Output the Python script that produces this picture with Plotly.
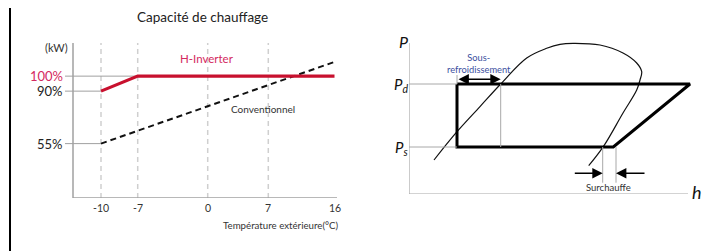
import numpy as np
import plotly.graph_objects as go

W, H = 717, 251

# ---------------- data: left chart ----------------
temp_ticks = [-10, -7, 0, 7, 16]
tick_labels = ["-10", "-7", "0", "7", "16"]
inverter_temp = [-10, -7, 16]
inverter_pct = [90, 100, 100]
conv_temp = [-10, 16]
conv_pct = [55, 109.5]
ref_pct = [100, 90, 55]
ref_labels = ["100%", "90%", "55%"]
ref_until_temp = [-7, -10, -10]
grid_temps = [-10, -7, 0, 7]

# ---------------- data: right chart (P-h diagram) ----------------
dome_h = [25, 48, 71, 91.7, 117.7, 137.7, 151, 164, 191, 214, 227.7, 232.7, 231, 227.7, 214, 194.3, 179.7]
dome_p = [34, 62.3, 87.4, 110, 136, 145.7, 149.7, 150.7, 149, 141, 131, 122.3, 114, 104, 81, 47.3, 28.3]
cycle_h = [48, 281, 204.3, 48, 48]
cycle_p = [110, 110, 47, 47, 110]
p_d, p_s = 110, 47
subcool_h = [48, 91.7]
superheat_h = [193.7, 207]

# ---------------- layout helpers ----------------
TICK_PX = [101, 137.7, 207.7, 268.3, 334.5]  # display positions of the temperature ticks
OX, OY = 8, 8  # page body margin offset


def tx(t):
    return np.interp(t, temp_ticks, TICK_PX)


def px(x):
    return (x - OX) / W


def py(y):
    return 1 - (y - OY) / H


FONT = "Lato, 'Open Sans', sans-serif"
RED_LINE = "#c8102e"
RED_TEXT = "#d42a60"
YMIN, YMAX = 18.74, 122.1

fig = go.Figure()

# vertical dashed grid lines (left)
for t in grid_temps:
    fig.add_shape(type="line", xref="x", yref="y", x0=tx(t), x1=tx(t), y0=YMIN, y1=YMAX,
                  line=dict(color="#cfcfcf", width=1.5, dash="5px,4px"), layer="below")

# reference lines
for p, t in zip(ref_pct, ref_until_temp):
    fig.add_shape(type="line", xref="x", yref="y", x0=65, x1=tx(t), y0=p, y1=p,
                  line=dict(color="#a0a0a0", width=1), layer="below")

# axes (left)
fig.add_shape(type="line", xref="x", yref="y", x0=73, x1=73, y0=YMIN, y1=YMAX,
              line=dict(color="#a0a0a0", width=1.5))
fig.add_shape(type="line", xref="x", yref="y", x0=73, x1=337, y0=YMIN, y1=YMIN,
              line=dict(color="#a0a0a0", width=1.5))

fig.add_trace(go.Scatter(x=tx(conv_temp), y=conv_pct, mode="lines",
                         line=dict(color="#111111", width=2, dash="6px,4px"),
                         xaxis="x", yaxis="y", hoverinfo="skip", showlegend=False))
fig.add_trace(go.Scatter(x=tx(inverter_temp), y=inverter_pct, mode="lines",
                         line=dict(color=RED_LINE, width=3.2),
                         xaxis="x", yaxis="y", hoverinfo="skip", showlegend=False))

ann = []


def text_ann(text, x, y, size, color="#222", xanchor="center", xref="paper", yref="paper"):
    ann.append(dict(text=text, x=x, y=y, xref=xref, yref=yref, xanchor=xanchor, yanchor="middle",
                    showarrow=False, font=dict(size=size, color=color)))


# left chart texts
text_ann("Capacité de chauffage", px(202), py(17), 13.5)
text_ann("(kW)", px(70), py(48), 11, "#333", xanchor="right")
for p, lab in zip(ref_pct, ref_labels):
    text_ann(lab, px(65), p, 13, RED_TEXT if lab == "100%" else "#222", xanchor="right", yref="y")
for t, lab in zip(temp_ticks, tick_labels):
    text_ann(lab, tx(t), py(208), 10.5, "#333", xref="x")
text_ann("Température extérieure(°C)", px(340), py(225), 9.7, "#333", xanchor="right")
text_ann("H-Inverter", px(207), py(58), 11.5, RED_TEXT)
text_ann("Conventionnel", px(263), py(109), 10, "#333")

# left border
fig.add_shape(type="line", xref="paper", yref="paper", x0=px(10), x1=px(10), y0=0, y1=1.05,
              line=dict(color="#000", width=2))

# ---------------- right chart ----------------
G = "#a8a8a8"
fig.add_shape(type="line", xref="x2", yref="y2", x0=0, x1=0, y0=0, y1=151, line=dict(color=G, width=1.2))
fig.add_shape(type="line", xref="x2", yref="y2", x0=0, x1=279, y0=0, y1=0, line=dict(color=G, width=1.2))
for lev in (p_d, p_s):
    fig.add_shape(type="line", xref="x2", yref="y2", x0=0, x1=cycle_h[0], y0=lev, y1=lev,
                  line=dict(color=G, width=1))
fig.add_shape(type="line", xref="x2", yref="y2", x0=subcool_h[1], x1=subcool_h[1], y0=p_s, y1=p_d,
              line=dict(color=G, width=1))
fig.add_shape(type="line", xref="x2", yref="y2", x0=subcool_h[0], x1=subcool_h[0], y0=p_d, y1=119,
              line=dict(color=G, width=1))
for hh in superheat_h:
    fig.add_shape(type="line", xref="x2", yref="y2", x0=hh, x1=hh, y0=11.3, y1=p_s,
                  line=dict(color=G, width=1))

fig.add_trace(go.Scatter(x=dome_h, y=dome_p, mode="lines", line=dict(color="#111", width=1.2, shape="spline", smoothing=1.0),
                         xaxis="x2", yaxis="y2", hoverinfo="skip", showlegend=False))
fig.add_trace(go.Scatter(x=cycle_h, y=cycle_p, mode="lines", line=dict(color="#000", width=3),
                         xaxis="x2", yaxis="y2", hoverinfo="skip", showlegend=False))

# arrows
ann.append(dict(x=subcool_h[1], y=114.7, ax=subcool_h[0], ay=114.7, xref="x2", yref="y2",
                axref="x2", ayref="y2", text="", showarrow=True, arrowhead=2, startarrowhead=2,
                arrowside="end+start", arrowsize=1.3, startarrowsize=1.3, arrowwidth=1.6, arrowcolor="#000"))
ann.append(dict(x=superheat_h[0], y=20.7, ax=164.3, ay=20.7, xref="x2", yref="y2",
                axref="x2", ayref="y2", text="", showarrow=True, arrowhead=2,
                arrowsize=1.3, arrowwidth=1.6, arrowcolor="#000"))
ann.append(dict(x=superheat_h[1], y=20.7, ax=237, ay=20.7, xref="x2", yref="y2",
                axref="x2", ayref="y2", text="", showarrow=True, arrowhead=2,
                arrowsize=1.3, arrowwidth=1.6, arrowcolor="#000"))

BLUE = "#3b4fa0"
text_ann("Sous-<br>refroidissement", px(479), py(63.5), 9.3, BLUE)
text_ann("Surchauffe", px(608), py(187), 9.5, "#333")
text_ann("<i>P</i>", px(403), py(41), 16, "#111")
text_ann("<i>P<sub>d</sub></i>", px(401), py(85), 15, "#111")
text_ann("<i>P<sub>s</sub></i>", px(401), py(148), 15, "#111")
text_ann("<i>h</i>", px(697), py(192), 18, "#111")

fig.update_layout(
    width=W, height=H, margin=dict(l=0, r=0, t=0, b=0),
    paper_bgcolor="white", plot_bgcolor="rgba(0,0,0,0)",
    font=dict(family=FONT),
    showlegend=False,
    annotations=ann,
    xaxis=dict(domain=[px(60), px(345)], range=[60, 345], visible=False, fixedrange=True),
    yaxis=dict(domain=[py(198), py(43)], range=[YMIN, YMAX], visible=False, fixedrange=True),
    xaxis2=dict(domain=[px(409), px(699)], range=[0, 290], visible=False, anchor="y2", fixedrange=True),
    yaxis2=dict(domain=[py(194), py(34)], range=[0, 160], visible=False, anchor="x2", fixedrange=True),
)

fig.write_html("out.html", config={"displayModeBar": False})
